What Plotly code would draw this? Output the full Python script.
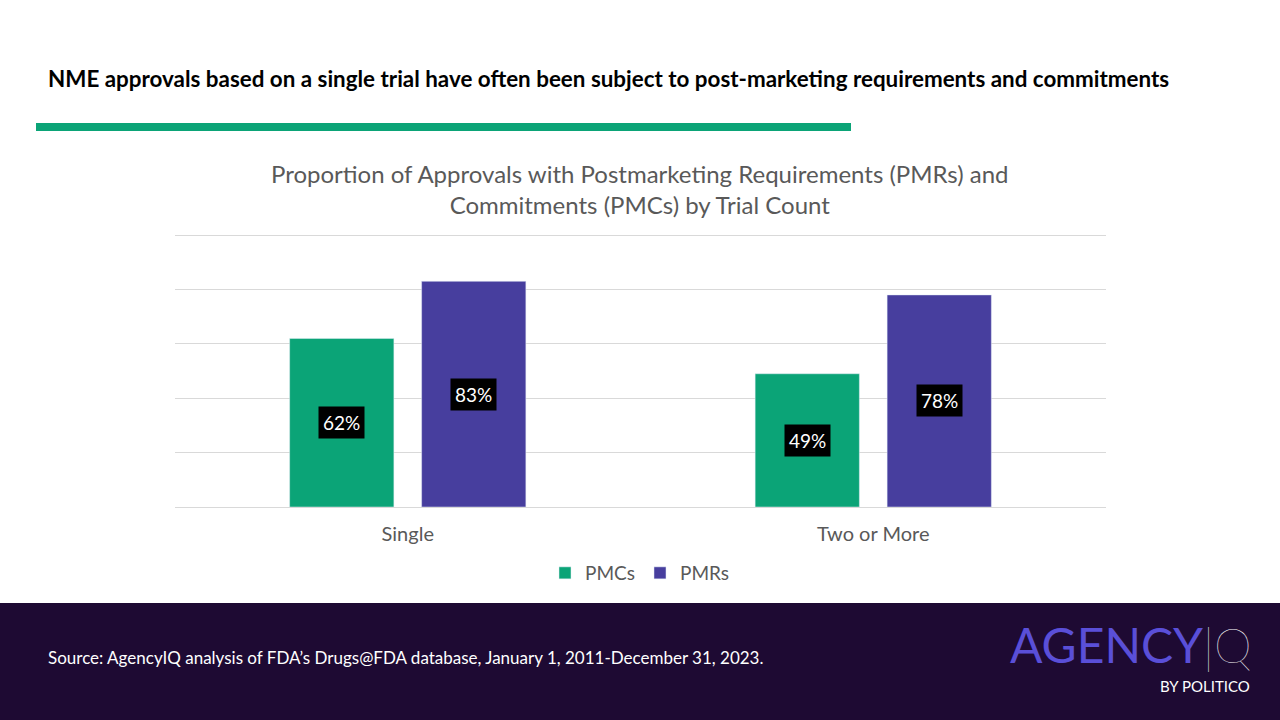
import plotly.graph_objects as go

# data
categories = ["Single", "Two or More"]
pmcs = [0.62, 0.49]
pmrs = [0.83, 0.78]
series_names = ["PMCs", "PMRs"]

GREEN = "#0ba477"
PURPLE = "#473e9e"
FOOTER = "#1e0a33"
FONT = "Lato"

fig = go.Figure()
fig.add_trace(go.Bar(name=series_names[0], x=categories, y=pmcs, marker_color=GREEN))
fig.add_trace(go.Bar(name=series_names[1], x=categories, y=pmrs, marker_color=PURPLE))

# value labels: black boxes centred in each bar
for vals, shift in [(pmcs, -66), (pmrs, 66)]:
    for cat, v in zip(categories, vals):
        fig.add_annotation(
            x=cat, y=v / 2, xref="x", yref="y", xshift=shift,
            text=f"{v:.0%}", showarrow=False,
            font=dict(family=FONT, size=19, color="white"),
            bgcolor="black", borderpad=4,
        )

# header rule and footer band
fig.add_shape(type="rect", xref="paper", yref="paper",
              x0=36 / 1280, x1=851 / 1280, y0=1 - 131 / 720, y1=1 - 123 / 720,
              fillcolor=GREEN, line_width=0, layer="below")
fig.add_shape(type="rect", xref="paper", yref="paper",
              x0=0, x1=1, y0=0, y1=1 - 603 / 720,
              fillcolor=FOOTER, line_width=0, layer="below")

fig.add_annotation(
    x=46 / 1280, y=1 - 78 / 720, xref="paper", yref="paper",
    xanchor="left", yanchor="middle", showarrow=False,
    text="<b>NME approvals based on a single trial have often been subject to post-marketing requirements and commitments</b>",
    font=dict(family=FONT, size=22.4, color="black"),
)
fig.add_annotation(
    x=640 / 1280, y=1 - 189 / 720, xref="paper", yref="paper",
    xanchor="center", yanchor="middle", showarrow=False,
    text="Proportion of Approvals with Postmarketing Requirements (PMRs) and<br>Commitments (PMCs) by Trial Count",
    font=dict(family=FONT, size=24, color="#595959"),
)
fig.add_annotation(
    x=46 / 1280, y=1 - 657 / 720, xref="paper", yref="paper",
    xanchor="left", yanchor="middle", showarrow=False,
    text="Source: AgencyIQ analysis of FDA’s Drugs@FDA database, January 1, 2011-December 31, 2023.",
    font=dict(family=FONT, size=17, color="white"),
)
# logo
fig.add_annotation(
    x=1254 / 1280, y=1 - 644 / 720, xref="paper", yref="paper",
    xanchor="right", yanchor="middle", showarrow=False,
    text="<span style='color:#5a4fd8'>AGENCY</span><span style='color:white;font-weight:200'>|Q</span>",
    font=dict(family=FONT, size=48, color="#5a4fd8"),
)
fig.add_annotation(
    x=1252 / 1280, y=1 - 686 / 720, xref="paper", yref="paper",
    xanchor="right", yanchor="middle", showarrow=False,
    text="BY POLITICO",
    font=dict(family=FONT, size=15, color="white"),
)

fig.update_layout(
    width=1280, height=720,
    margin=dict(l=0, r=0, t=0, b=0),
    paper_bgcolor="white", plot_bgcolor="white",
    barmode="group", bargap=0.433, bargroupgap=0.21,
    font=dict(family=FONT, color="#595959"),
    showlegend=True,
    legend=dict(orientation="h", x=0.5, xanchor="center", y=1 - 573 / 720, yanchor="middle",
                font=dict(family=FONT, size=19, color="#595959"), itemwidth=30),
    xaxis=dict(domain=[175 / 1280, 1106 / 1280], showline=False,
               ticks="outside", ticklen=9, tickcolor="rgba(0,0,0,0)",
               tickfont=dict(family=FONT, size=20, color="#595959")),
    yaxis=dict(domain=[1 - 507 / 720, 1 - 234 / 720], range=[0, 1.004], dtick=0.2,
               showticklabels=False, gridcolor="#d9d9d9", zeroline=True,
               zerolinecolor="#d9d9d9", zerolinewidth=1),
)

fig.write_html("out.html", config={"displayModeBar": False},
               post_script="document.body.style.margin='0';")
